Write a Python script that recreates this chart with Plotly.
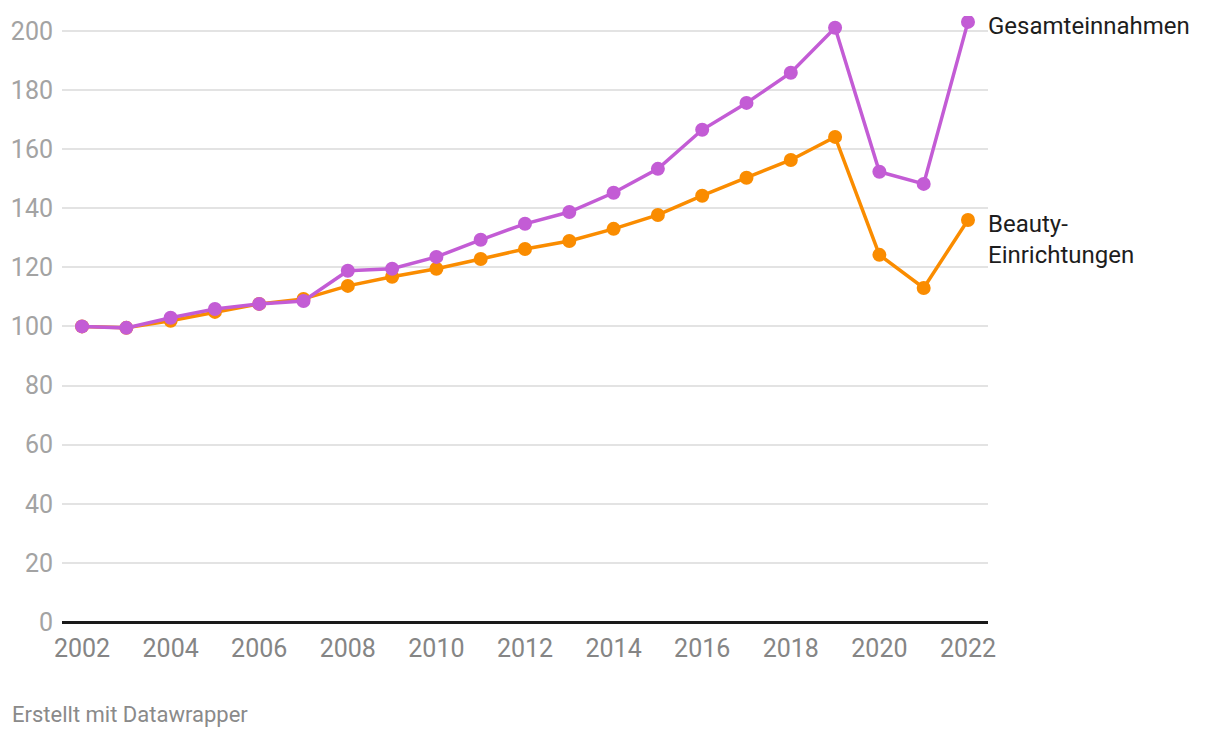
import plotly.graph_objects as go

years = list(range(2002, 2023))
gesamt = [100, 99.5, 102.9, 105.9, 107.6, 108.6, 118.8, 119.5, 123.5, 129.3, 134.7,
          138.7, 145.2, 153.3, 166.5, 175.6, 185.8, 201.0, 152.3, 148.2, 203.0]
beauty = [100, 99.5, 101.9, 104.9, 107.6, 109.3, 113.7, 116.8, 119.5, 122.8, 126.2,
          128.9, 133.0, 137.7, 144.2, 150.3, 156.3, 164.1, 124.2, 113.0, 136.0]
series_names = ["Gesamteinnahmen", "Beauty-<br>Einrichtungen"]
y_ticks = [0, 20, 40, 60, 80, 100, 120, 140, 160, 180, 200]
x_ticks = list(range(2002, 2023, 2))

PURPLE = "#c35cd5"
ORANGE = "#fa8c00"

fig = go.Figure()
fig.add_trace(go.Scatter(x=years, y=beauty, mode="lines+markers",
                         line=dict(color=ORANGE, width=3.5),
                         marker=dict(color=ORANGE, size=14),
                         showlegend=False))
fig.add_trace(go.Scatter(x=years, y=gesamt, mode="lines+markers",
                         line=dict(color=PURPLE, width=3.5),
                         marker=dict(color=PURPLE, size=14),
                         showlegend=False))

fig.add_annotation(x=years[-1], y=gesamt[-1], text=series_names[0], showarrow=False,
                   xanchor="left", yanchor="middle", xshift=18, yshift=-4,
                   align="left", font=dict(family="Roboto", size=24, color="#1d1d1d"))
fig.add_annotation(x=years[-1], y=beauty[-1], text=series_names[1], showarrow=False,
                   xanchor="left", yanchor="middle", xshift=18, yshift=-20,
                   align="left", font=dict(family="Roboto", size=24, color="#1d1d1d"))

fig.add_annotation(xref="paper", yref="paper", x=-52 / 926, y=-92 / 606,
                   xanchor="left", yanchor="middle",
                   text="Erstellt mit Datawrapper", showarrow=False,
                   font=dict(family="Roboto", size=22, color="#8a8a8a"))

fig.update_layout(
    width=1212, height=730,
    margin=dict(l=54, r=232, t=8, b=116, autoexpand=False),
    paper_bgcolor="white", plot_bgcolor="white",
    font=dict(family="Roboto"),
)

fig.update_xaxes(range=[2001.548, 2022.452], tickvals=x_ticks,
                 ticktext=[str(t) for t in x_ticks],
                 showgrid=False, zeroline=False, showline=False, automargin=False,
                 ticks="", tickfont=dict(family="Roboto", size=25, color="#858585"),
                 ticklabelstandoff=9)
fig.update_yaxes(range=[0, 205], tickvals=y_ticks,
                 showgrid=True, gridcolor="#e3e3e3", gridwidth=1.5,
                 zeroline=True, zerolinecolor="#1a1a1a", zerolinewidth=2.5,
                 showline=False, ticks="", automargin=False,
                 tickfont=dict(family="Roboto", size=25, color="#a3a3a3"),
                 ticklabelstandoff=8)

fig.write_html("out.html")
